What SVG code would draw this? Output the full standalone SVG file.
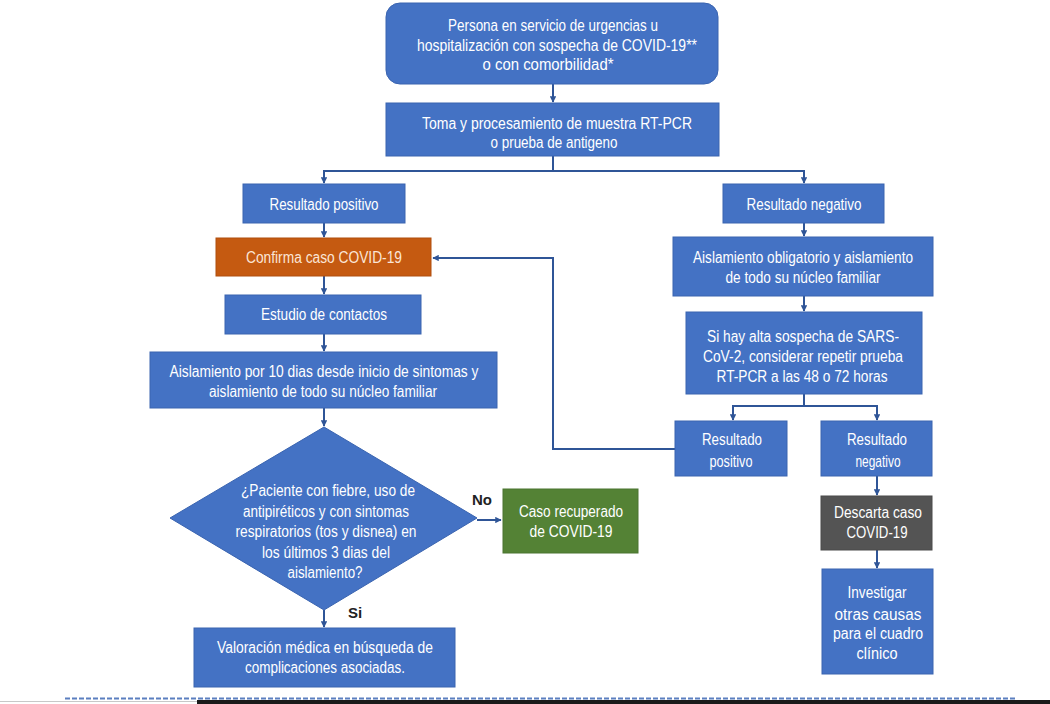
<svg xmlns="http://www.w3.org/2000/svg" width="1050" height="704" viewBox="0 0 1050 704">
<style>
.box{fill:#4472C4;stroke:#3A64B0;stroke-width:1}
.org{fill:#C55A11;stroke:#B04F0E;stroke-width:1}
.grn{fill:#548235;stroke:#4A7530;stroke-width:1}
.gry{fill:#545454;stroke:#4A4A4A;stroke-width:1}
text{font-family:"Liberation Sans",Arial,sans-serif;font-size:16px;fill:#FFFFFF;text-anchor:middle}
.org-t{fill:#FBE5D6}
.lbl{fill:#222222;font-weight:bold;font-size:15px}
.con{fill:none;stroke:#2F5597;stroke-width:2}
</style>
<defs>
<marker id="arr" viewBox="0 0 10 10" refX="9" refY="5" markerWidth="3.2" markerHeight="3.2" orient="auto-start-reverse" markerUnits="strokeWidth">
<path d="M0,0 L10,5 L0,10 z" fill="#2F5597"/>
</marker>
</defs>
<rect x="0" y="0" width="1050" height="704" fill="#FFFFFF"/>

<g id="connectors">
<path class="con" d="M553,84 V102" marker-end="url(#arr)"/>
<path class="con" d="M553,156 V171 H324 V183" marker-end="url(#arr)"/>
<path class="con" d="M553,171 H804 V183" marker-end="url(#arr)"/>
<path class="con" d="M324,223 V237" marker-end="url(#arr)"/>
<path class="con" d="M324,276 V294" marker-end="url(#arr)"/>
<path class="con" d="M324,334 V351" marker-end="url(#arr)"/>
<path class="con" d="M324,408 V426" marker-end="url(#arr)"/>
<path class="con" d="M477,520 H501" marker-end="url(#arr)"/>
<path class="con" d="M324,610 V627" marker-end="url(#arr)"/>
<path class="con" d="M804,223 V236" marker-end="url(#arr)"/>
<path class="con" d="M804,296 V311" marker-end="url(#arr)"/>
<path class="con" d="M804,394 V406 H733 V420" marker-end="url(#arr)"/>
<path class="con" d="M804,406 H877 V420" marker-end="url(#arr)"/>
<path class="con" d="M675,449 H553 V258 H433" marker-end="url(#arr)"/>
<path class="con" d="M877,476 V495" marker-end="url(#arr)"/>
<path class="con" d="M877,550 V568" marker-end="url(#arr)"/>
</g>

<g id="n-inicio">
<rect class="box" x="386" y="3" width="332" height="81" rx="14"/>
<text x="553" y="31" textLength="210" lengthAdjust="spacingAndGlyphs">Persona en servicio de urgencias u</text>
<text x="557" y="51" textLength="280" lengthAdjust="spacingAndGlyphs">hospitalización con sospecha de COVID-19**</text>
<text x="548" y="70" textLength="131" lengthAdjust="spacingAndGlyphs">o con comorbilidad*</text>
</g>

<g id="n-muestra">
<rect class="box" x="386" y="103" width="333" height="53"/>
<text x="557" y="129" textLength="270" lengthAdjust="spacingAndGlyphs">Toma y procesamiento de muestra RT-PCR</text>
<text x="554" y="148" textLength="127" lengthAdjust="spacingAndGlyphs">o prueba de antigeno</text>
</g>

<g id="n-res-pos">
<rect class="box" x="243" y="184" width="162" height="39"/>
<text x="324" y="210" textLength="109" lengthAdjust="spacingAndGlyphs">Resultado positivo</text>
</g>

<g id="n-res-neg">
<rect class="box" x="723" y="184" width="161" height="39"/>
<text x="804" y="210" textLength="115" lengthAdjust="spacingAndGlyphs">Resultado negativo</text>
</g>

<g id="n-confirma">
<rect class="org" x="216" y="238" width="215" height="38"/>
<text class="org-t" x="324" y="263" textLength="156" lengthAdjust="spacingAndGlyphs">Confirma caso COVID-19</text>
</g>

<g id="n-contactos">
<rect class="box" x="225" y="295" width="196" height="39"/>
<text x="324" y="320" textLength="126" lengthAdjust="spacingAndGlyphs">Estudio de contactos</text>
</g>

<g id="n-aislamiento10">
<rect class="box" x="150" y="352" width="347" height="56"/>
<text x="324" y="377" textLength="309" lengthAdjust="spacingAndGlyphs">Aislamiento por 10 dias desde inicio de sintomas y</text>
<text x="323" y="397" textLength="228" lengthAdjust="spacingAndGlyphs">aislamiento de todo su núcleo familiar</text>
</g>

<g id="n-pregunta">
<polygon class="box" points="324,427 477,518 324,610 170,518"/>
<text x="328" y="496" textLength="174" lengthAdjust="spacingAndGlyphs">¿Paciente con fiebre, uso de</text>
<text x="326" y="517" textLength="166" lengthAdjust="spacingAndGlyphs">antipiréticos y con sintomas</text>
<text x="326" y="537" textLength="181" lengthAdjust="spacingAndGlyphs">respiratorios (tos y disnea) en</text>
<text x="326" y="558" textLength="128" lengthAdjust="spacingAndGlyphs">los últimos 3 dias del</text>
<text x="325" y="578" textLength="75" lengthAdjust="spacingAndGlyphs">aislamiento?</text>
</g>

<g id="n-recuperado">
<rect class="grn" x="503" y="489" width="135" height="64"/>
<text x="571" y="517" textLength="104" lengthAdjust="spacingAndGlyphs">Caso recuperado</text>
<text x="571" y="537" textLength="83" lengthAdjust="spacingAndGlyphs">de COVID-19</text>
</g>

<g id="n-valoracion">
<rect class="box" x="194" y="628" width="261" height="59"/>
<text x="325" y="653" textLength="216" lengthAdjust="spacingAndGlyphs">Valoración médica en búsqueda de</text>
<text x="325" y="673" textLength="160" lengthAdjust="spacingAndGlyphs">complicaciones asociadas.</text>
</g>

<g id="n-aislamiento-obl">
<rect class="box" x="673" y="237" width="260" height="59"/>
<text x="803" y="263" textLength="220" lengthAdjust="spacingAndGlyphs">Aislamiento obligatorio y aislamiento</text>
<text x="803" y="283" textLength="155" lengthAdjust="spacingAndGlyphs">de todo su núcleo familiar</text>
</g>

<g id="n-repetir">
<rect class="box" x="686" y="312" width="236" height="82"/>
<text x="803" y="342" textLength="192" lengthAdjust="spacingAndGlyphs">Si hay alta sospecha de SARS-</text>
<text x="803" y="362" textLength="200" lengthAdjust="spacingAndGlyphs">CoV-2, considerar repetir prueba</text>
<text x="802" y="382" textLength="171" lengthAdjust="spacingAndGlyphs">RT-PCR a las 48 o 72 horas</text>
</g>

<g id="n-res-pos2">
<rect class="box" x="675" y="421" width="112" height="55"/>
<text x="732" y="445" textLength="60" lengthAdjust="spacingAndGlyphs">Resultado</text>
<text x="731" y="467" textLength="43" lengthAdjust="spacingAndGlyphs">positivo</text>
</g>

<g id="n-res-neg2">
<rect class="box" x="821" y="421" width="111" height="55"/>
<text x="877" y="445" textLength="60" lengthAdjust="spacingAndGlyphs">Resultado</text>
<text x="878" y="467" textLength="45" lengthAdjust="spacingAndGlyphs">negativo</text>
</g>

<g id="n-descarta">
<rect class="gry" x="821" y="496" width="111" height="54"/>
<text x="878" y="518" textLength="88" lengthAdjust="spacingAndGlyphs">Descarta caso</text>
<text x="877" y="538" textLength="61" lengthAdjust="spacingAndGlyphs">COVID-19</text>
</g>

<g id="n-investigar">
<rect class="box" x="822" y="569" width="111" height="105"/>
<text x="877" y="598" textLength="59" lengthAdjust="spacingAndGlyphs">Investigar</text>
<text x="878" y="620" textLength="87" lengthAdjust="spacingAndGlyphs">otras causas</text>
<text x="878" y="639" textLength="90" lengthAdjust="spacingAndGlyphs">para el cuadro</text>
<text x="877" y="659" textLength="41" lengthAdjust="spacingAndGlyphs">clínico</text>
</g>

<g id="labels">
<text class="lbl" x="482" y="505">No</text>
<text class="lbl" x="355" y="618">Si</text>
</g>

<g id="bottom">
<line x1="65" y1="698.5" x2="1015" y2="698.5" stroke="#5B7FC0" stroke-width="2" stroke-dasharray="5 2"/>
<line x1="0" y1="701.5" x2="197" y2="701.5" stroke="#C8C8C8" stroke-width="1"/>
<rect x="197" y="700" width="853" height="4" fill="#1A1A1A"/>
</g>
</svg>
